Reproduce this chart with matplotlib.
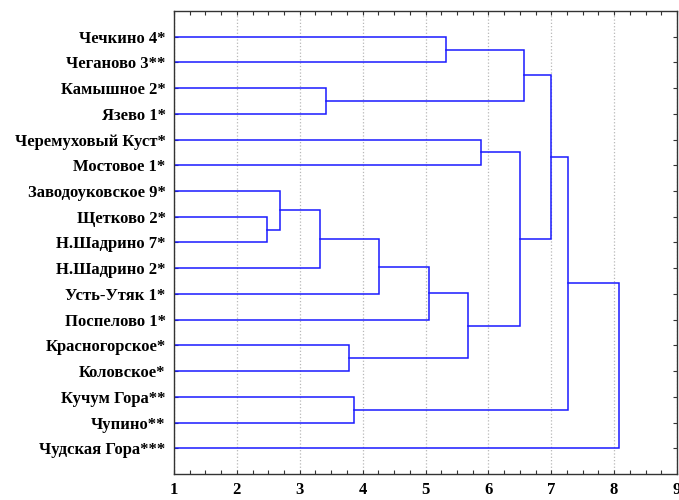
import numpy as np
import matplotlib
matplotlib.use("Agg")
import matplotlib.pyplot as plt
from matplotlib.ticker import MultipleLocator

# листья дендрограммы сверху вниз
leaves = ["Чечкино 4*", "Чеганово 3**", "Камышное 2*", "Язево 1*",
          "Черемуховый Куст*", "Мостовое 1*", "Заводоуковское 9*",
          "Щетково 2*", "Н.Шадрино 7*", "Н.Шадрино 2*", "Усть-Утяк 1*",
          "Поспелово 1*", "Красногорское*", "Коловское*", "Кучум Гора**",
          "Чупино**", "Чудская Гора***"]

# объединения: (узел 1, узел 2, расстояние); новые узлы нумеруются с 17
merge_a = [0, 2, 17, 4, 7, 6, 22, 23, 24, 12, 25, 20, 19, 14, 29, 31]
merge_b = [1, 3, 18, 5, 8, 21, 9, 10, 11, 13, 26, 27, 28, 15, 30, 16]
merge_h = [5.33, 3.41, 6.56, 5.89, 2.48, 2.68, 3.32, 4.26, 5.06,
           3.78, 5.67, 6.50, 7.00, 3.86, 7.27, 8.08]

xticks = [1, 2, 3, 4, 5, 6, 7, 8, 9]

plt.rcParams['font.family'] = ['Liberation Serif', 'DejaVu Serif']
plt.rcParams['font.weight'] = 'bold'

fig = plt.figure(figsize=(6.79, 5.0), dpi=100)
ax = fig.add_axes([174 / 679, 26 / 500, 503 / 679, 463 / 500])

n = len(leaves)
ypos = {i: i + 1 for i in range(n)}
xpos = {i: 1.0 for i in range(n)}
col = '#1a1aff'
for k, (a, b, h) in enumerate(zip(merge_a, merge_b, merge_h)):
    node = n + k
    ax.plot([xpos[a], h, h, xpos[b]], [ypos[a], ypos[a], ypos[b], ypos[b]],
            color=col, lw=1.1, solid_joinstyle='miter')
    ypos[node] = (ypos[a] + ypos[b]) / 2
    xpos[node] = h

ax.set_xlim(1, 9)
ax.set_ylim(n + 1, 0)
ax.set_xticks(xticks)
ax.set_xticklabels([str(t) for t in xticks], fontsize=12, fontweight='bold')
ax.xaxis.set_minor_locator(MultipleLocator(0.25))
ax.set_yticks(range(1, n + 1))
ax.set_yticklabels(leaves, fontsize=12, fontweight='bold')
ax.tick_params(axis='x', which='both', direction='in', top=True, length=3,
               width=0.8, color='#333333', pad=6)
ax.tick_params(axis='y', which='both', direction='in', right=True, length=3,
               width=0.8, color='#333333', pad=6)
ax.grid(axis='x', which='major', color='#b8b8b8', linestyle=':', linewidth=0.9)
ax.set_axisbelow(True)
for s in ax.spines.values():
    s.set_color('#333333')
    s.set_linewidth(1.0)

fig.savefig("out.png", dpi=100)
